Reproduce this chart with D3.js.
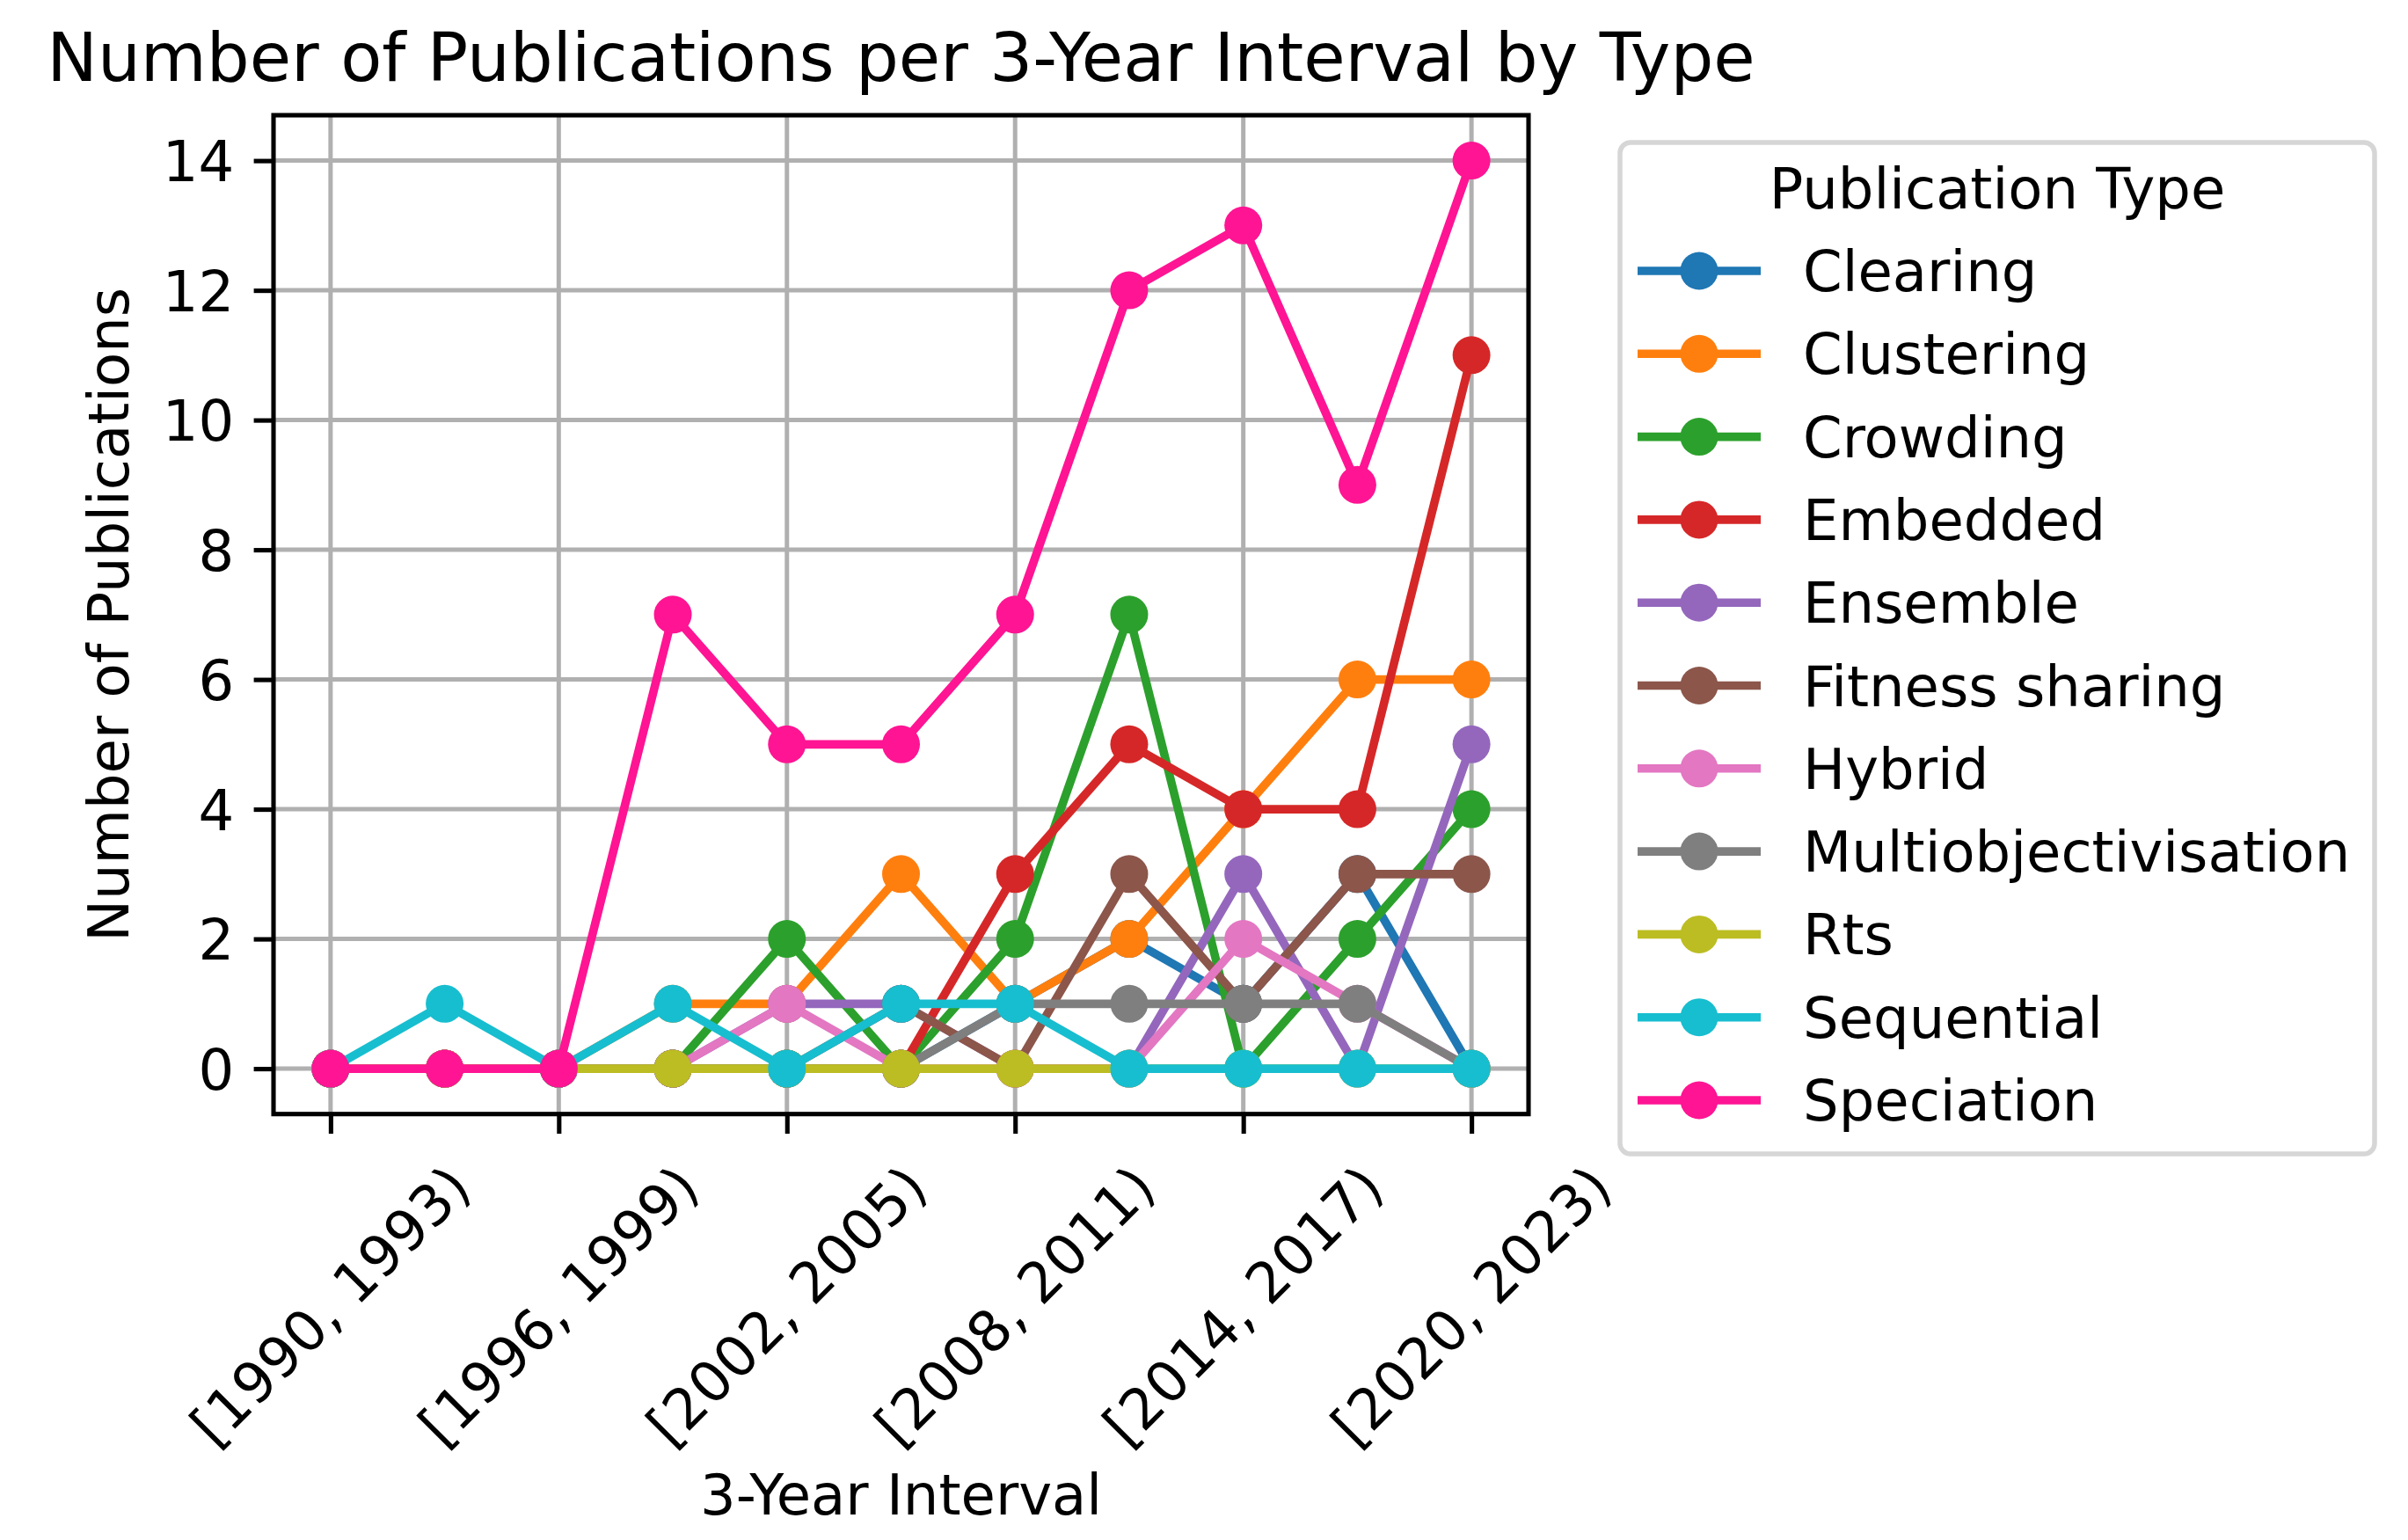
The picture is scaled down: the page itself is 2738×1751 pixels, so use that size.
<!DOCTYPE html>
<html>
<head>
<meta charset="utf-8">
<script src="https://cdn.jsdelivr.net/npm/d3@7"></script>
<style>
  html, body { margin: 0; padding: 0; background: #ffffff; }
  svg { display: block; font-family: "DejaVu Sans", sans-serif; }
</style>
</head>
<body>
<svg id="chart" width="2738" height="1751"></svg>
<script>
// ---- data ----
const intervals = ["[1990, 1993)", "[1993, 1996)", "[1996, 1999)", "[1999, 2002)", "[2002, 2005)",
  "[2005, 2008)", "[2008, 2011)", "[2011, 2014)", "[2014, 2017)", "[2017, 2020)", "[2020, 2023)"];
const tickLabels = ["[1990, 1993)", "[1996, 1999)", "[2002, 2005)", "[2008, 2011)", "[2014, 2017)", "[2020, 2023)"];
const yTicks = [0, 2, 4, 6, 8, 10, 12, 14];
const seriesNames = ["Clearing", "Clustering", "Crowding", "Embedded", "Ensemble", "Fitness sharing",
  "Hybrid", "Multiobjectivisation", "Rts", "Sequential", "Speciation"];
const clearing            = [0, 0, 0, 0, 0, 0, 1, 2, 1, 3, 0];
const clustering          = [0, 0, 0, 1, 1, 3, 1, 2, 4, 6, 6];
const crowding            = [0, 0, 0, 0, 2, 0, 2, 7, 0, 2, 4];
const embedded            = [0, 0, 0, 0, 0, 0, 3, 5, 4, 4, 11];
const ensemble            = [0, 0, 0, 0, 1, 1, 0, 0, 3, 0, 5];
const fitnessSharing      = [0, 0, 0, 0, 0, 1, 0, 3, 1, 3, 3];
const hybrid              = [0, 0, 0, 0, 1, 0, 0, 0, 2, 1, 0];
const multiobjectivisation= [0, 0, 0, 0, 0, 0, 1, 1, 1, 1, 0];
const rts                 = [0, 0, 0, 0, 0, 0, 0, 0, 0, 0, 0];
const sequential          = [0, 1, 0, 1, 0, 1, 1, 0, 0, 0, 0];
const speciation          = [0, 0, 0, 7, 5, 5, 7, 12, 13, 9, 14];
const seriesValues = [clearing, clustering, crowding, embedded, ensemble, fitnessSharing,
  hybrid, multiobjectivisation, rts, sequential, speciation];
const colors = ["#1f77b4", "#ff7f0e", "#2ca02c", "#d62728", "#9467bd", "#8c564b",
  "#e377c2", "#7f7f7f", "#bcbd22", "#17becf", "#ff1493"];

// ---- layout ----
const svg = d3.select("#chart");
const L = 311, R = 1738, T = 131, B = 1266.7;
const FS = 64;
const x = d3.scalePoint().domain(intervals).range([L, R]).padding(0.5);
const y = d3.scaleLinear().domain([-0.7, 14.7]).range([B, T]);

// grid
const grid = svg.append("g");
tickLabels.forEach(t => {
  grid.append("line").attr("x1", x(t)).attr("x2", x(t)).attr("y1", T).attr("y2", B)
    .attr("stroke", "#b0b0b0").attr("stroke-width", 5);
});
yTicks.forEach(v => {
  grid.append("line").attr("x1", L).attr("x2", R).attr("y1", y(v)).attr("y2", y(v))
    .attr("stroke", "#b0b0b0").attr("stroke-width", 5);
});

// series
const line = d3.line().x((d, i) => x(intervals[i])).y(d => y(d));
seriesValues.forEach((vals, k) => {
  const g = svg.append("g");
  g.append("path").datum(vals).attr("d", line).attr("fill", "none")
    .attr("stroke", colors[k]).attr("stroke-width", 9.6).attr("stroke-linejoin", "round").attr("stroke-linecap", "butt");
  g.selectAll("circle").data(vals).join("circle")
    .attr("cx", (d, i) => x(intervals[i])).attr("cy", d => y(d)).attr("r", 21.5)
    .attr("fill", colors[k]);
});

// spines
svg.append("rect").attr("x", L).attr("y", T).attr("width", R - L).attr("height", B - T)
  .attr("fill", "none").attr("stroke", "#000").attr("stroke-width", 5.1);

// y axis
const yAxis = d3.axisLeft(y).tickValues(yTicks).tickSize(22.4).tickPadding(22.4).tickFormat(d3.format("d"));
const ya = svg.append("g").attr("transform", `translate(${L},0)`).call(yAxis);
ya.select(".domain").remove();
ya.selectAll(".tick line").attr("stroke", "#000").attr("stroke-width", 5.1);
ya.selectAll(".tick text").attr("font-size", FS).attr("font-family", "DejaVu Sans").attr("fill", "#000").attr("dy", "0.36em");

// x axis
const xAxis = d3.axisBottom(x).tickValues(tickLabels).tickSize(22.4).tickFormat("");
const xa = svg.append("g").attr("transform", `translate(0,${B})`).call(xAxis);
xa.select(".domain").remove();
xa.selectAll(".tick line").attr("stroke", "#000").attr("stroke-width", 5.1);
xa.selectAll(".tick text").remove();
const labTop = B + 22.4 + 22.4;
tickLabels.forEach(t => {
  const tx = svg.append("text").text(t).attr("font-size", FS).attr("text-anchor", "middle")
    .attr("dominant-baseline", "central").attr("fill", "#000");
  const w = tx.node().getComputedTextLength();
  const h = FS * 1.16;
  const diag = (w + h) / Math.SQRT2;
  tx.attr("transform", `translate(${x(t)},${labTop + diag / 2}) rotate(-45)`);
});

// axis labels & title
svg.append("text").text("3-Year Interval").attr("x", (L + R) / 2).attr("y", 1722)
  .attr("text-anchor", "middle").attr("font-size", FS).attr("fill", "#000");
svg.append("text").text("Number of Publications").attr("transform", `translate(146,${(T + B) / 2}) rotate(-90)`)
  .attr("text-anchor", "middle").attr("font-size", FS).attr("fill", "#000");
svg.append("text").text("Number of Publications per 3-Year Interval by Type").attr("x", (L + R) / 2).attr("y", 92)
  .attr("text-anchor", "middle").attr("font-size", 77).attr("fill", "#000");

// legend
const lg = svg.append("g");
lg.append("rect").attr("x", 1842).attr("y", 162).attr("width", 858).attr("height", 1150)
  .attr("rx", 12).attr("fill", "#fff").attr("stroke", "#d6d6d6").attr("stroke-width", 5.5);
lg.append("text").text("Publication Type").attr("x", 2271).attr("y", 237)
  .attr("text-anchor", "middle").attr("font-size", FS).attr("fill", "#000");
seriesNames.forEach((name, k) => {
  const cy = 308 + k * 94.3;
  lg.append("line").attr("x1", 1862).attr("x2", 2002).attr("y1", cy).attr("y2", cy)
    .attr("stroke", colors[k]).attr("stroke-width", 9.6);
  lg.append("circle").attr("cx", 1932).attr("cy", cy).attr("r", 21.5).attr("fill", colors[k]);
  lg.append("text").text(name).attr("x", 2050).attr("y", cy).attr("dy", "0.36em")
    .attr("font-size", FS).attr("fill", "#000");
});
</script>
</body>
</html>
